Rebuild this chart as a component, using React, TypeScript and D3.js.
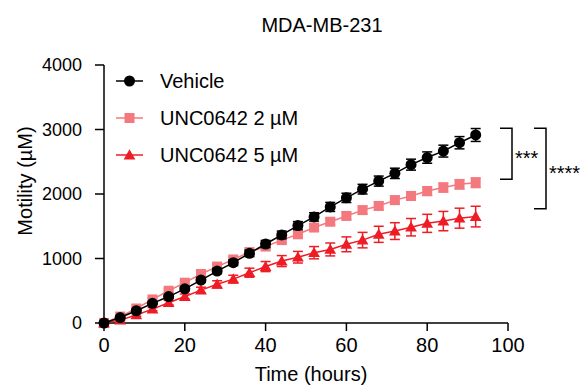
import React, { useEffect } from 'react'
import * as d3 from 'd3'

const hours = [0, 4, 8, 12, 16, 20, 24, 28, 32, 36, 40, 44, 48, 52, 56, 60, 64, 68, 72, 76, 80, 84, 88, 92]

const vehicle = [0, 85, 190, 305, 410, 530, 665, 805, 935, 1080, 1225, 1365, 1510, 1645, 1800, 1940, 2075, 2200, 2320, 2455, 2565, 2665, 2795, 2915]
const vehicleErr = [0, 10, 15, 20, 25, 30, 35, 40, 45, 50, 55, 60, 62, 65, 70, 72, 75, 78, 80, 85, 88, 92, 95, 100]

const unc2 = [0, 100, 225, 365, 500, 625, 760, 875, 985, 1100, 1185, 1285, 1375, 1480, 1570, 1660, 1750, 1815, 1905, 1970, 2045, 2100, 2150, 2175]
const unc2Err = [0, 8, 15, 20, 25, 30, 32, 35, 38, 40, 42, 45, 47, 50, 52, 55, 57, 60, 62, 65, 67, 70, 72, 75]

const unc5 = [0, 45, 125, 215, 315, 410, 510, 600, 680, 780, 875, 960, 1020, 1090, 1140, 1220, 1285, 1375, 1425, 1485, 1545, 1580, 1625, 1650]
const unc5Err = [0, 10, 20, 25, 35, 40, 45, 55, 60, 70, 78, 85, 90, 95, 100, 115, 120, 125, 130, 135, 140, 150, 155, 160]

const xTicks = [0, 20, 40, 60, 80, 100]
const yTicks = [0, 1000, 2000, 3000, 4000]

// significance brackets: [top, bottom] in motility units
const brackets = [
  { top: 3020, bottom: 2230, label: '***' },
  { top: 3020, bottom: 1770, label: '****' },
]

const series = [
  { name: 'Vehicle', values: vehicle, err: vehicleErr, color: '#000000', shape: 'circle' },
  { name: 'UNC0642 2 µM', values: unc2, err: unc2Err, color: '#F4797E', shape: 'square' },
  { name: 'UNC0642 5 µM', values: unc5, err: unc5Err, color: '#EE1D25', shape: 'triangle' },
]

const W = 584
const H = 390
const font = '"Liberation Sans", Arial, sans-serif'

const Marker = ({ shape, x, y, color }: { shape: string; x: number; y: number; color: string }) => {
  if (shape === 'circle') return <circle cx={x} cy={y} r={5.5} fill={color} />
  if (shape === 'square') return <rect x={x - 5} y={y - 5} width={10} height={10} fill={color} />
  const tri = d3.symbol().type(d3.symbolTriangle).size(60)()
  return <path d={tri || ''} transform={`translate(${x},${y + 1})`} fill={color} />
}

export default function App() {
  useEffect(() => {
    document.body.style.margin = '0'
  }, [])

  const x = d3.scaleLinear().domain([0, 100]).range([104, 508])
  const y = d3.scaleLinear().domain([0, 4000]).range([323, 65])

  const line = d3.line<number>()
    .x((_, i) => x(hours[i]))
    .y(d => y(d))

  const drawOrder = [series[1], series[2], series[0]]

  return (
    <svg width={W} height={H} style={{ display: 'block' }} fontFamily={font}>
      <rect width={W} height={H} fill="#fff" />
      <text x={322} y={32} textAnchor="middle" fontSize={20}>MDA-MB-231</text>

      {/* y axis */}
      <line x1={x(0)} x2={x(0)} y1={y(4000)} y2={y(0)} stroke="#000" strokeWidth={1.5} />
      {yTicks.map(t => (
        <g key={t}>
          <line x1={x(0) - 9} x2={x(0)} y1={y(t)} y2={y(t)} stroke="#000" strokeWidth={1.5} />
          <text x={82} y={y(t)} dy="0.35em" textAnchor="end" fontSize={18}>{t}</text>
        </g>
      ))}
      <text transform={`translate(32,${181}) rotate(-90)`} textAnchor="middle" fontSize={20}>Motility (µM)</text>

      {/* x axis */}
      <line x1={x(0) - 0.75} x2={x(100)} y1={y(0)} y2={y(0)} stroke="#000" strokeWidth={1.5} />
      {xTicks.map(t => (
        <g key={t}>
          <line x1={x(t)} x2={x(t)} y1={y(0)} y2={y(0) + 8} stroke="#000" strokeWidth={1.5} />
          <text x={x(t)} y={352} textAnchor="middle" fontSize={20}>{t}</text>
        </g>
      ))}
      <text x={311} y={381} textAnchor="middle" fontSize={20}>Time (hours)</text>

      {/* series */}
      {drawOrder.map(s => (
        <g key={s.name}>
          <path d={line(s.values) || ''} fill="none" stroke={s.color} strokeWidth={1.5} />
          {s.values.map((v, i) => {
            const cx = x(hours[i])
            const lo = y(v - s.err[i])
            const hi = y(v + s.err[i])
            return (
              <g key={i} stroke={s.color} strokeWidth={1.5}>
                <line x1={cx} x2={cx} y1={lo} y2={hi} />
                <line x1={cx - 5} x2={cx + 5} y1={hi} y2={hi} />
                <line x1={cx - 5} x2={cx + 5} y1={lo} y2={lo} />
              </g>
            )
          })}
          {s.values.map((v, i) => (
            <Marker key={i} shape={s.shape} x={x(hours[i])} y={y(v)} color={s.color} />
          ))}
        </g>
      ))}

      {/* legend */}
      {series.map((s, i) => {
        const ly = 81 + i * 37
        return (
          <g key={s.name}>
            <line x1={116} x2={143} y1={ly} y2={ly} stroke={s.color} strokeWidth={1.5} />
            <Marker shape={s.shape} x={129.5} y={ly} color={s.color} />
            <text x={160} y={ly} dy="0.35em" fontSize={20}>{s.name}</text>
          </g>
        )
      })}

      {/* significance brackets */}
      {brackets.map((b, i) => {
        const x0 = i === 0 ? 500 : 534
        const x1 = x0 + 12
        const yt = y(b.top)
        const yb = y(b.bottom)
        return (
          <g key={i}>
            <path d={`M${x0},${yt}H${x1}V${yb}H${x0}`} fill="none" stroke="#000" strokeWidth={1.5} />
            <text x={x1 + 3} y={(yt + yb) / 2 + 11} fontSize={20}>{b.label}</text>
          </g>
        )
      })}
    </svg>
  )
}
